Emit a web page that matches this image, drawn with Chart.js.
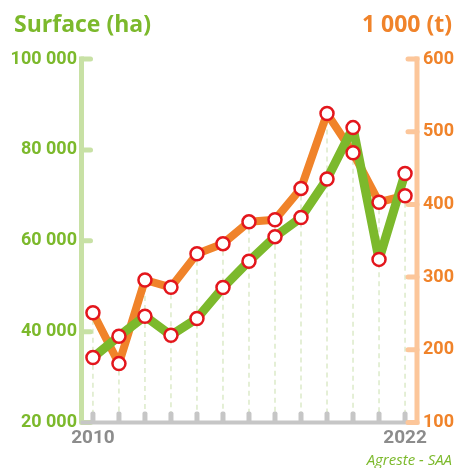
<html>
<head>
  <title>Surface et production</title>
  <script src="https://cdn.jsdelivr.net/npm/chart.js"></script>
  <style>
    body { margin: 0; background: #fff; }
    .chart-box { width: 467px; height: 468px; }
  </style>
</head>

<body>
  <div class="chart-box"><canvas id="myChart"></canvas></div>
  <script>
    // années, surface (ha) et production (1 000 t)
    const annees = [2010, 2011, 2012, 2013, 2014, 2015, 2016, 2017, 2018, 2019, 2020, 2021, 2022];
    const surface = [34300, 39000, 43400, 39200, 42900, 49700, 55500, 60900, 65100, 73600, 84900, 55900, 74800];
    const production = [251, 181, 296, 286, 332, 346, 376, 379, 422, 525, 471, 403, 412];
    const ticksSurface = [20000, 40000, 60000, 80000, 100000];
    const ticksProduction = [100, 200, 300, 400, 500, 600];
    const anneesAffichees = [2010, 2022];

    const VERT = '#7cb92c';
    const ORANGE = '#f0832a';
    const ROUGE = '#e3161c';

    // 100000 -> "100 000"
    function milliers(v) {
      return String(v).replace(/\B(?=(\d{3})+(?!\d))/g, ' ');
    }

    const policeAxe = { family: 'Roboto', weight: 'bold', size: 18 };

    // axes dessinés à la main : traits épais, petites graduations, repères gris
    const decor = {
      id: 'decor',
      beforeDatasetsDraw(chart) {
        const { ctx, chartArea, scales } = chart;
        const { x, y, y2 } = scales;
        const bas = chartArea.bottom;
        ctx.save();

        // pointillés verticaux sous chaque point de production
        ctx.strokeStyle = '#d3e5bb';
        ctx.lineWidth = 1.2;
        ctx.setLineDash([5, 4]);
        annees.forEach((a, i) => {
          const px = x.getPixelForValue(a);
          const py = y2.getPixelForValue(production[i]);
          ctx.beginPath();
          ctx.moveTo(px, py + 7);
          ctx.lineTo(px, bas);
          ctx.stroke();
        });
        ctx.setLineDash([]);

        // axe gauche
        ctx.strokeStyle = '#c8e1a5';
        ctx.lineWidth = 5;
        ctx.lineCap = 'butt';
        ctx.beginPath();
        ctx.moveTo(chartArea.left, y.getPixelForValue(100000) - 2.5);
        ctx.lineTo(chartArea.left, bas);
        ctx.stroke();
        ctx.lineCap = 'round';
        ticksSurface.forEach(v => {
          const py = y.getPixelForValue(v);
          ctx.beginPath();
          ctx.moveTo(chartArea.left, py);
          ctx.lineTo(chartArea.left + 9, py);
          ctx.stroke();
        });

        // axe des années
        ctx.fillStyle = '#c6c6c6';
        ctx.fillRect(chartArea.left - 1, bas - 2, chartArea.right - chartArea.left + 2, 4);
        annees.forEach(a => {
          const px = x.getPixelForValue(a);
          ctx.beginPath();
          ctx.roundRect(px - 2.5, bas - 11, 5, 11, [2, 2, 0, 0]);
          ctx.fill();
        });

        // axe droit
        ctx.strokeStyle = '#fcc69a';
        ctx.lineWidth = 5;
        ctx.lineCap = 'butt';
        ctx.beginPath();
        ctx.moveTo(chartArea.right, y2.getPixelForValue(600) - 2.5);
        ctx.lineTo(chartArea.right, bas + 2);
        ctx.stroke();
        ctx.lineCap = 'round';
        ticksProduction.forEach(v => {
          const py = y2.getPixelForValue(v);
          ctx.beginPath();
          ctx.moveTo(chartArea.right, py);
          ctx.lineTo(chartArea.right - 9, py);
          ctx.stroke();
        });
        ctx.restore();
      },
      afterDraw(chart) {
        const { ctx } = chart;
        ctx.save();
        ctx.font = 'bold 23px "Open Sans"';
        ctx.textBaseline = 'alphabetic';
        ctx.fillStyle = VERT;
        ctx.textAlign = 'left';
        ctx.fillText('Surface (ha)', 14, 32);
        ctx.fillStyle = ORANGE;
        ctx.textAlign = 'right';
        ctx.fillText('1 000 (t)', 452, 32);
        ctx.font = 'italic 15px "Open Sans"';
        ctx.fillStyle = VERT;
        ctx.fillText('Agreste - SAA', 452, 465);
        ctx.restore();
      }
    };

    const ligne = (valeurs, axe, couleur, epaisseur, ordre) => ({
      data: annees.map((a, i) => ({ x: a, y: valeurs[i] })),
      yAxisID: axe,
      borderColor: couleur,
      borderWidth: epaisseur,
      borderJoinStyle: 'round',
      pointRadius: 0,
      tension: 0,
      clip: false,
      order: ordre
    });
    const points = (valeurs, axe, ordre) => ({
      data: annees.map((a, i) => ({ x: a, y: valeurs[i] })),
      yAxisID: axe,
      showLine: false,
      pointRadius: 6.5,
      pointBorderWidth: 2.5,
      pointBackgroundColor: '#ffffff',
      pointBorderColor: ROUGE,
      clip: false,
      order: ordre
    });

    const ctx = document.getElementById('myChart').getContext('2d');
    const myChart = new Chart(ctx, {
      type: 'line',
      data: {
        datasets: [
          ligne(production, 'y2', ORANGE, 8, 3),
          ligne(surface, 'y', VERT, 9, 2),
          points(production, 'y2', 1),
          points(surface, 'y', 0)
        ]
      },
      options: {
        responsive: true,
        maintainAspectRatio: false,
        animation: false,
        layout: { padding: { top: 59, left: 0, right: 0, bottom: 0 } },
        plugins: { legend: { display: false }, tooltip: { enabled: false } },
        scales: {
          x: {
            type: 'linear',
            min: 2009.56,
            max: 2022.46,
            afterBuildTicks: s => { s.ticks = annees.map(a => ({ value: a })); },
            afterFit: s => { s.height = 45.5; },
            grid: { display: false, drawTicks: false },
            border: { display: false },
            ticks: {
              autoSkip: false,
              maxRotation: 0,
              padding: 4,
              color: '#8c8c8c',
              font: { family: 'Roboto', weight: 'bold', size: 19 },
              callback: v => anneesAffichees.includes(v) ? String(v) : ''
            }
          },
          y: {
            position: 'left',
            min: 20000,
            max: 100000,
            afterBuildTicks: s => { s.ticks = ticksSurface.map(v => ({ value: v })); },
            afterFit: s => { s.width = 81.5; },
            grid: { display: false, drawTicks: false },
            border: { display: false },
            ticks: { padding: 4.5, color: VERT, font: policeAxe, callback: v => milliers(v) }
          },
          y2: {
            position: 'right',
            min: 100,
            max: 600,
            afterBuildTicks: s => { s.ticks = ticksProduction.map(v => ({ value: v })); },
            afterFit: s => { s.width = 50; },
            grid: { display: false, drawTicks: false },
            border: { display: false },
            ticks: { padding: 6, color: ORANGE, font: policeAxe }
          }
        }
      },
      plugins: [decor]
    });
  </script>
</body>

</html>
